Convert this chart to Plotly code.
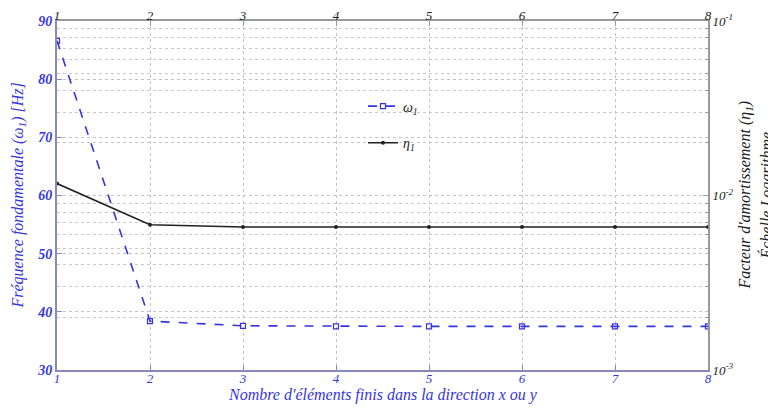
import plotly.graph_objects as go

n_elements = [1, 2, 3, 4, 5, 6, 7, 8]
omega1 = [86.6, 38.4, 37.6, 37.5, 37.5, 37.5, 37.5, 37.5]
eta1 = [0.0117, 0.0068, 0.0066, 0.0066, 0.0066, 0.0066, 0.0066, 0.0066]

BLUE = "#3535e0"
FONT = "Liberation Serif"

# page body has an 8px default margin; figure sized to fill the rest of the window
W, H = 768, 400
L, T, R, B = 49, 13, 68, 38
PW = W - L - R
PH = H - T - B

fig = go.Figure()
fig.add_trace(go.Scatter(
    x=n_elements, y=omega1, mode="lines+markers", name="<i>ω<sub>1</sub></i>",
    line=dict(color=BLUE, width=1.6, dash="dash"),
    marker=dict(symbol="square-open", size=5, color=BLUE, line=dict(width=1.2, color=BLUE)),
    xaxis="x", yaxis="y", legend="legend"))
fig.add_trace(go.Scatter(
    x=n_elements, y=eta1, mode="lines+markers", name="<i>η<sub>1</sub></i>",
    line=dict(color="#222222", width=1.6),
    marker=dict(symbol="circle", size=4, color="#222222"),
    xaxis="x2", yaxis="y2", legend="legend2"))

grid_style = dict(gridcolor="#c2c2c2", griddash="dot", gridwidth=1)
leg_common = dict(xanchor="left", yanchor="middle", bgcolor="rgba(0,0,0,0)",
                  font=dict(family=FONT, size=14, color="#222"), itemwidth=30)

fig.update_layout(
    width=W, height=H,
    margin=dict(l=L, r=R, t=T, b=B, autoexpand=False),
    paper_bgcolor="white", plot_bgcolor="white",
    font=dict(family=FONT, size=13),
    showlegend=True,
    legend=dict(x=0.47, y=0.755, **leg_common),
    legend2=dict(x=0.47, y=0.65, **leg_common),
    xaxis=dict(range=[1, 8], tickvals=n_elements, showgrid=True, **grid_style,
               showline=True, linecolor="#8888bb", linewidth=2, automargin=False,
               ticks="inside", ticklen=5, tickcolor="#8888bb", ticklabelstandoff=-5,
               tickfont=dict(family=FONT, size=13, color=BLUE, style="italic"),
               zeroline=False),
    xaxis2=dict(range=[1, 8], tickvals=n_elements, overlaying="x", side="top", matches="x",
                showgrid=False, showline=True, linecolor="#999999", linewidth=2, automargin=False,
                ticks="inside", ticklen=5, tickcolor="#999", ticklabelstandoff=-6,
                tickfont=dict(family=FONT, size=13, color="#222", style="italic"),
                zeroline=False),
    yaxis=dict(range=[30, 90], tickvals=[30, 40, 50, 60, 70, 80, 90], showgrid=True, **grid_style,
               showline=True, linecolor="#8888bb", linewidth=2, automargin=False,
               ticks="inside", ticklen=5, tickcolor="#8888bb",
               tickfont=dict(family=FONT, size=14, color=BLUE, style="italic", weight="bold"),
               zeroline=False),
    yaxis2=dict(type="log", range=[-3, -1], overlaying="y", side="right",
                tickvals=[0.001, 0.01, 0.1],
                ticktext=["10<sup>-3</sup>", "10<sup>-2</sup>", "10<sup>-1</sup>"],
                showgrid=True, **grid_style, automargin=False,
                minor=dict(tickvals=[k * 10 ** e for e in (-3, -2) for k in range(2, 10)],
                           showgrid=True, gridcolor="#c8c8c8", griddash="dot", ticks="inside",
                           ticklen=3, tickcolor="#999"),
                showline=True, linecolor="#999999", linewidth=2,
                ticks="inside", ticklen=5, tickcolor="#999",
                tickfont=dict(family=FONT, size=13, color="#222", style="italic"),
                zeroline=False),
)

fig.add_annotation(xref="paper", yref="paper", x=-39 / PW, y=0.5,
                   text="Fréquence fondamentale (ω<sub>1</sub>) [Hz]", textangle=-90,
                   showarrow=False, font=dict(family=FONT, size=16, color=BLUE, style="italic"),
                   xanchor="center", yanchor="middle")
fig.add_annotation(xref="paper", yref="paper", x=0.5, y=-25 / PH,
                   text="Nombre d'éléments finis dans la direction x ou y",
                   showarrow=False, font=dict(family=FONT, size=16, color=BLUE, style="italic"),
                   xanchor="center", yanchor="middle")
fig.add_annotation(xref="paper", yref="paper", x=1.0 + 37 / PW, y=0.5,
                   text="Facteur d'amortissement (η<sub>1</sub>)", textangle=-90,
                   showarrow=False, font=dict(family=FONT, size=16, color="#222", style="italic"),
                   xanchor="center", yanchor="middle")
fig.add_annotation(xref="paper", yref="paper", x=1.0 + 58 / PW, y=0.5,
                   text="Échelle Logarithme", textangle=-90,
                   showarrow=False, font=dict(family=FONT, size=16, color="#222", style="italic"),
                   xanchor="center", yanchor="middle")

fig.write_html("out.html")
